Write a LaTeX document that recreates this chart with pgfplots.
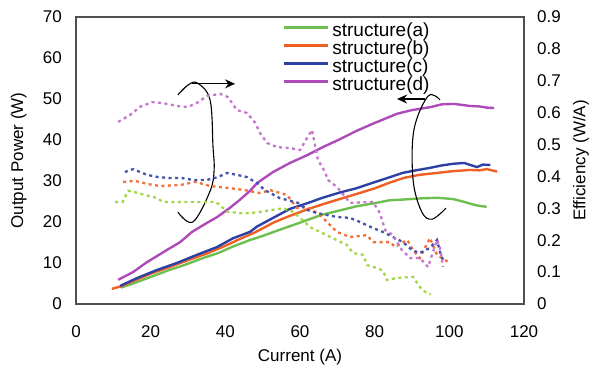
\documentclass[border=0pt]{standalone}
\usepackage{fontspec}
\setmainfont{Liberation Sans}
\usepackage{pgfplots}
\pgfplotsset{compat=1.18}
\usetikzlibrary{arrows.meta}
\definecolor{cA}{RGB}{110,190,80}
\definecolor{cB}{RGB}{240,95,35}
\definecolor{cC}{RGB}{45,65,165}
\definecolor{cD}{RGB}{175,75,185}
\definecolor{ax}{RGB}{80,80,80}
\begin{document}
\begin{tikzpicture}
\useasboundingbox (-76pt,-66pt) rectangle (521pt,304pt);
\pgfplotsset{
  base/.style={
    width=448pt, height=287pt, scale only axis,
    at={(0,0)}, anchor=south west,
    xmin=0, xmax=120,
    major tick length=0pt,
    /pgf/number format/assume math mode=true,
    tick label style={font=\fontsize{17}{20}\selectfont, inner sep=0pt},
    axis line style={ax, line width=1.3pt},
  }
}
\begin{axis}[base,
  ymin=0, ymax=70,
  xtick={0,20,...,120}, ytick={0,10,...,70},
  xticklabel style={anchor=base, yshift=-33pt},
  yticklabel style={anchor=east, xshift=-14pt},
  xlabel={Current (A)},
  ylabel={Output Power (W)},
  every axis x label/.style={at={(axis description cs:0.5,0)}, anchor=base, yshift=-57pt, font=\fontsize{17}{20}\selectfont},
  every axis y label/.style={at={(axis description cs:-0.118,0.5)}, rotate=90, anchor=base, font=\fontsize{17}{20}\selectfont},
  legend style={at={(rel axis cs:0.462,0.978)}, anchor=north west, draw=none, fill=none,
    inner sep=0pt, outer sep=0pt, font=\fontsize{19}{18}\selectfont,
    nodes={inner sep=0pt, text height=13pt, text depth=5pt},
    column sep=3pt, row sep=0pt},
  legend cell align=left,
  legend image code/.code={\draw[#1] (0pt,5pt) -- (44pt,5pt);},
]
\addplot[cA, line width=2.4pt] coordinates {(12,4.0) (15,4.9) (20,6.6) (25,8.3) (29,9.5) (34,11.2) (38,12.4) (42,14.0) (46.6,15.6) (50,16.6) (53,17.6) (58,19.2) (62,20.5) (66,21.8) (71,22.9) (75,23.8) (80,24.6) (84,25.3) (88,25.5) (93,25.8) (97,25.9) (101,25.6) (104,24.9) (107,24.1) (110,23.7)};
\addlegendentry{structure(a)}
\addplot[cB, line width=2.4pt] coordinates {(9.6,3.7) (12,4.3) (15.3,5.6) (20,7.4) (25,9.0) (30,10.7) (35,12.3) (40,14.2) (44,15.9) (48,17.5) (53,19.9) (57,21.4) (62,23.1) (66,24.3) (71,25.7) (75,26.8) (80,28.2) (84,29.6) (88,30.8) (92,31.5) (97,32.0) (101,32.4) (105.5,32.7) (108,32.6) (110,32.9) (112.8,32.3)};
\addlegendentry{structure(b)}
\addplot[cC, line width=2.4pt] coordinates {(11.8,4.4) (16.3,6.3) (21.7,8.3) (27,10.0) (32.4,12.0) (37.8,13.9) (42,16.0) (46.6,17.6) (48.5,18.9) (52.8,21.0) (57.3,23.2) (62,24.6) (66,25.9) (70.7,27.2) (75,28.2) (79.6,29.6) (83.3,30.7) (87.6,32.0) (91,32.6) (94.8,33.2) (98,33.8) (101,34.2) (104,34.4) (106,33.8) (107.4,33.4) (109,34.0) (111,33.9)};
\addlegendentry{structure(c)}
\addplot[cD, line width=2.4pt] coordinates {(11.3,5.9) (15.3,7.8) (19,10.2) (24.4,13.2) (27.9,15.1) (31.1,17.6) (35.1,19.8) (37.8,21.2) (41.3,23.5) (44,25.5) (46.6,27.6) (48.5,29.5) (52.8,32.2) (57.3,34.4) (61.9,36.3) (66.2,38.3) (70.7,40.2) (75.3,42.3) (79.6,44.0) (83.6,45.5) (86,46.4) (90,47.3) (94.8,48.0) (98,48.7) (101.3,48.8) (103,48.6) (105.5,48.3) (108,48.2) (110,47.9) (112,47.8)};
\addlegendentry{structure(d)}
% annotation loops
\draw[black, line width=1.1pt] plot[smooth, tension=0.6] coordinates {(axis cs:27.3,51.0) (axis cs:30.0,53.4) (axis cs:32.5,53.9) (axis cs:35.9,49.8) (axis cs:36.7,38.3) (axis cs:37.0,32.7) (axis cs:35.9,27.5) (axis cs:31.3,20.0) (axis cs:27.3,22.4)};
\draw[black, line width=1.1pt, -{Stealth[length=10pt,width=9pt]}] (axis cs:31.1,53.7) -- (axis cs:42.6,53.7);
\draw[black, line width=1.1pt] plot[smooth, tension=0.6] coordinates {(axis cs:99.1,23.4) (axis cs:95.4,20.7) (axis cs:92.6,22.5) (axis cs:90.3,30.2) (axis cs:90.5,42.4) (axis cs:94.3,50.7) (axis cs:97.5,49.8)};
\draw[black, line width=1.1pt, -{Stealth[length=10pt,width=9pt]}] (axis cs:93.5,50.0) -- (axis cs:86.0,50.0);
\end{axis}
\begin{axis}[base,
  ymin=0, ymax=0.9,
  axis x line=none, axis y line*=right,
  y axis line style={draw=none},
  ytick={0,0.1,...,0.9},
  yticklabel style={anchor=west, xshift=13pt, /pgf/number format/fixed, /pgf/number format/precision=1},
  ylabel={Efficiency (W/A)},
  every axis y label/.style={at={(axis description cs:1.137,0.5)}, rotate=90, anchor=base, font=\fontsize{17}{20}\selectfont},
  every axis plot/.append style={line width=2.3pt, dash pattern=on 3pt off 3.5pt},
]
\addplot[cA!70!yellow!90!white] coordinates {(10.5,0.32) (12.5,0.32) (14,0.355) (16,0.35) (19,0.34) (21,0.335) (23.5,0.32) (26,0.32) (29,0.32) (32,0.32) (35,0.32) (37.5,0.32) (40.5,0.29) (43.9,0.285) (46.6,0.285) (49.3,0.289) (52.5,0.295) (55.5,0.30) (58,0.29) (60.5,0.265) (62.7,0.241) (65.4,0.226) (69.9,0.20) (72.6,0.185) (74.2,0.16) (76.9,0.154) (78,0.122) (80.6,0.113) (82.2,0.105) (83.3,0.075) (86,0.082) (90.3,0.085) (92.1,0.053) (93.5,0.038) (95,0.03)};
\addplot[cB!90!white] coordinates {(12.6,0.383) (15.8,0.386) (19.3,0.376) (22.5,0.370) (27.9,0.373) (31.9,0.383) (35.9,0.370) (40.7,0.364) (45.3,0.357) (49.3,0.348) (52,0.357) (56.5,0.342) (59.2,0.301) (61.9,0.304) (65.4,0.279) (69.9,0.226) (73.4,0.210) (77.9,0.216) (79.6,0.194) (84.1,0.194) (85.5,0.179) (88.7,0.201) (90.3,0.169) (92.1,0.144) (94.8,0.207) (96.7,0.154) (98,0.144) (99.7,0.132)};
\addplot[cC!90!white] coordinates {(13.1,0.414) (15.3,0.423) (19,0.405) (22,0.398) (25.2,0.395) (28.4,0.395) (31.3,0.389) (35.1,0.389) (38,0.398) (40.5,0.411) (43.1,0.405) (45.8,0.398) (48.5,0.379) (50.6,0.357) (54.6,0.332) (59.5,0.317) (61.9,0.295) (64.6,0.285) (69.9,0.273) (73.4,0.270) (76.1,0.257) (79.6,0.238) (82.2,0.226) (84.9,0.210) (87.6,0.194) (90,0.169) (92.1,0.160) (94.8,0.176) (96.7,0.201) (97.5,0.163) (98.6,0.13)};
\addplot[cD!75!white] coordinates {(11.3,0.571) (14.5,0.593) (17.1,0.618) (20.4,0.633) (23.3,0.630) (27.1,0.621) (29.7,0.618) (31.9,0.627) (35.1,0.652) (38.6,0.659) (40.7,0.649) (43.1,0.608) (45.8,0.599) (48,0.568) (49.3,0.536) (51.2,0.505) (53.8,0.492) (57.3,0.489) (60,0.483) (61.9,0.521) (63.2,0.546) (64.8,0.452) (66.7,0.414) (67.5,0.389) (69.9,0.367) (73.4,0.317) (79.6,0.320) (81.4,0.285) (82.8,0.232) (84.9,0.216) (87.3,0.169) (89.5,0.144) (92.1,0.144) (94.3,0.116) (96.7,0.201) (97.5,0.176) (98.3,0.116)};
\end{axis}
\end{tikzpicture}
\end{document}
